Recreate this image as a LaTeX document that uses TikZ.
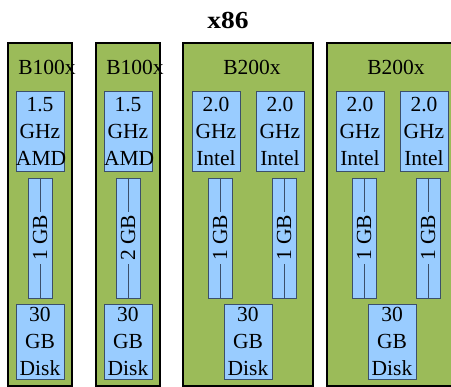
\documentclass[tikz,border=0pt]{standalone}
\usepackage{fontspec}
\setmainfont{Liberation Serif}
\usepackage{tikz}
\usetikzlibrary{positioning}
\definecolor{bladegreen}{HTML}{9BBB59}
\definecolor{partblue}{HTML}{99CCFF}
\definecolor{partedge}{HTML}{3B4F6B}

\begin{document}
\begin{tikzpicture}[
  x=1pt, y=-1pt,
  blade/.style={rectangle, draw=black, line width=1.5pt, fill=bladegreen,
                minimum width=64pt, minimum height=343pt, inner sep=0pt},
  wideblade/.style={blade, minimum width=130pt},
  bladelbl/.style={font=\fontsize{21.5}{27}\selectfont, inner sep=0pt},
  cpu/.style={rectangle, draw=partedge, line width=0.8pt, fill=partblue,
              text width=48pt, inner sep=0pt, minimum height=80pt, align=center,
              font=\fontsize{21.5}{27}\selectfont},
  disk/.style={cpu, minimum height=75pt},
  ram/.style={rectangle, draw=partedge, line width=0.8pt, fill=partblue,
              minimum width=24pt, minimum height=120pt, inner sep=0pt},
  ramtxt/.style={fill=partblue, rotate=90, inner xsep=3pt, inner ysep=0pt,
                 font=\fontsize{21.5}{27}\selectfont},
  ramline/.style={draw=partedge, line width=0.8pt}
]
\clip (0,0) rectangle (451,387);

% Title
\node[font=\bfseries\fontsize{24.5}{28}\selectfont] (title) at (228,20) {\scalebox{1.12}[1]{x86}};

% Blades
\node[blade] (b1) at (40,214.5) {};
\node[blade] (b2) at (128,214.5) {};
\node[wideblade] (b3) at (248,214.5) {};
\node[wideblade] (b4) at (392,214.5) {};

\node[bladelbl] (l1) at (47,67) {B100x};
\node[bladelbl] (l2) at (135,67) {B100x};
\node[bladelbl] (l3) at (252,67) {B200x};
\node[bladelbl] (l4) at (396,67) {B200x};

% CPUs
\node[cpu] (c1) at (40,131) {1.5\\GHz\\AMD};
\node[cpu] (c2) at (128,131) {1.5\\GHz\\AMD};
\node[cpu] (c3a) at (216,131) {2.0\\GHz\\Intel};
\node[cpu] (c3b) at (280,131) {2.0\\GHz\\Intel};
\node[cpu] (c4a) at (360,131) {2.0\\GHz\\Intel};
\node[cpu] (c4b) at (424,131) {2.0\\GHz\\Intel};

% Memory
\node[ram] (m1) at (40,238) {};
\node[ram] (m2) at (128,238) {};
\node[ram] (m3a) at (220,238) {};
\node[ram] (m3b) at (284,238) {};
\node[ram] (m4a) at (364,238) {};
\node[ram] (m4b) at (428,238) {};

\draw[ramline] (m1.north) -- (m1.south);
\draw[ramline] (m2.north) -- (m2.south);
\draw[ramline] (m3a.north) -- (m3a.south);
\draw[ramline] (m3b.north) -- (m3b.south);
\draw[ramline] (m4a.north) -- (m4a.south);
\draw[ramline] (m4b.north) -- (m4b.south);

\node[ramtxt] (t1) at (m1) {1 GB};
\node[ramtxt] (t2) at (m2) {2 GB};
\node[ramtxt] (t3a) at (m3a) {1 GB};
\node[ramtxt] (t3b) at (m3b) {1 GB};
\node[ramtxt] (t4a) at (m4a) {1 GB};
\node[ramtxt] (t4b) at (m4b) {1 GB};

% Disks
\node[disk] (d1) at (40,341.5) {30\\GB\\Disk};
\node[disk] (d2) at (128,341.5) {30\\GB\\Disk};
\node[disk] (d3) at (248,341.5) {30\\GB\\Disk};
\node[disk] (d4) at (392,341.5) {30\\GB\\Disk};

\end{tikzpicture}
\end{document}
